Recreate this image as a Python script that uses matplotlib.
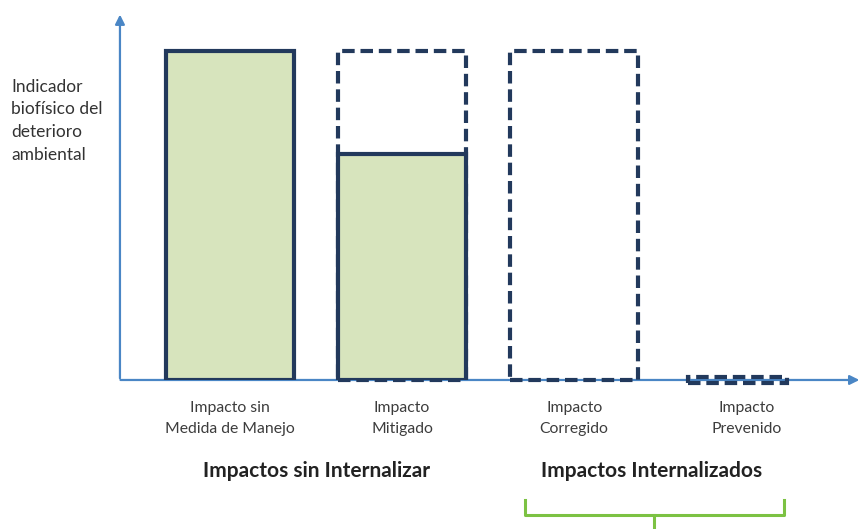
import matplotlib.pyplot as plt
import numpy as np
from matplotlib.lines import Line2D

plt.rcParams['font.family'] = ['Lato', 'DejaVu Sans']

# datos
categorias = ['Impacto sin\nMedida de Manejo', 'Impacto\nMitigado', 'Impacto\nCorregido', 'Impacto\nPrevenido']
impacto_residual = [100, 68.6, 0, 0]      # parte rellena (impacto que queda)
impacto_potencial = [0, 100, 100, 1.6]     # contorno punteado (impacto sin medida)
grupos = ['Impactos sin Internalizar', 'Impactos Internalizados']

verde = '#d7e4bd'
azul_osc = '#22395c'
azul_eje = '#4a86c5'

fig = plt.figure(figsize=(8.63, 5.29), dpi=100)
ax = fig.add_axes([0.139, 0.2817, 0.860, 0.696])
x = np.arange(len(categorias))
anchos = [0.74, 0.74, 0.74, 0.58]

# contornos punteados
for xi, h, w in zip(x, impacto_potencial, anchos):
    if h <= 0:
        continue
    base = 0 if h > 5 else -h / 2
    ax.bar(xi - (0.05 if h <= 5 else 0), h, width=w, bottom=base, facecolor='none',
           edgecolor=azul_osc, linewidth=3, linestyle=(0, (3, 1.4)), zorder=2, clip_on=False)
# barras rellenas
for xi, h, w in zip(x, impacto_residual, anchos):
    if h > 0:
        ax.bar(xi, h, width=w, facecolor=verde, edgecolor=azul_osc,
               linewidth=3, zorder=3)

ax.set_xlim(-0.640, 3.674)
ax.set_ylim(0, 112)
for s in ax.spines.values():
    s.set_visible(False)
ax.set_xticks([])
ax.set_yticks([])

# ejes con flecha
ax.annotate('', xy=(1.0, 0), xytext=(-0.003, 0), xycoords='axes fraction',
            arrowprops=dict(arrowstyle='-|>', color=azul_eje, lw=1.6, mutation_scale=14), zorder=1)
ax.annotate('', xy=(0, 1.0), xytext=(0, -0.003), xycoords='axes fraction',
            arrowprops=dict(arrowstyle='-|>', color=azul_eje, lw=1.6, mutation_scale=14), zorder=1)

# etiquetas de categorias
for xi, c in zip(x, categorias):
    ax.annotate(c, xy=(xi, 0), xycoords=('data', 'axes fraction'), xytext=(0, -21),
                textcoords='offset pixels', ha='center', va='top', fontsize=11.3,
                color='#3c3c3c', linespacing=1.6)

# titulos de grupo
ax.annotate(grupos[0], xy=(0.5, 0), xycoords=('data', 'axes fraction'), xytext=(0, -91),
            textcoords='offset pixels', ha='center', va='center', fontsize=15,
            fontweight='bold', color='#222222')
ax.annotate(grupos[1], xy=(2.45, 0), xycoords=('data', 'axes fraction'), xytext=(0, -91),
            textcoords='offset pixels', ha='center', va='center', fontsize=15,
            fontweight='bold', color='#222222')

# etiqueta eje y
fig.text(11 / 863, 1 - 79 / 529, 'Indicador\nbiofísico del\ndeterioro\nambiental',
         ha='left', va='top', fontsize=12.5, color='#333333', linespacing=1.5)

# llave verde
W, H = 863, 529
verde_llave = '#7cc243'
pts = [(525, 500), (525, 515), (784, 515), (784, 500)]
fig.add_artist(Line2D([p[0] / W for p in pts], [1 - p[1] / H for p in pts],
                      color=verde_llave, lw=2.2, transform=fig.transFigure))
fig.add_artist(Line2D([654 / W, 654 / W], [1 - 515 / H, 0], color=verde_llave, lw=2.2,
                      transform=fig.transFigure))

fig.savefig('out.png', dpi=100)
